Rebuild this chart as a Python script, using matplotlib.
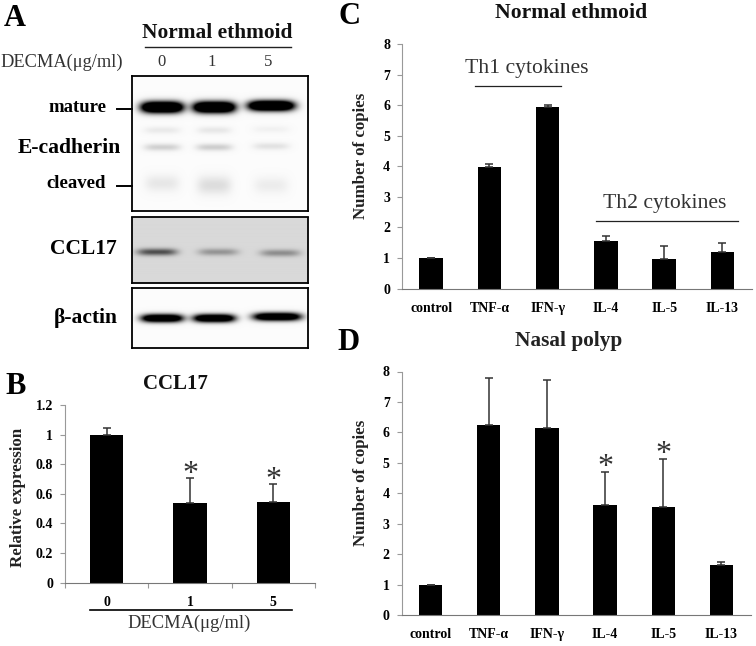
# -*- coding: utf-8 -*-
"""Figura: western blot y barras de CCL17 / citoquinas."""
import numpy as np
import matplotlib
matplotlib.use("Agg")
import matplotlib.pyplot as plt
from matplotlib.lines import Line2D

plt.rcParams["font.family"] = ["Liberation Serif", "DejaVu Serif"]

W, H = 756, 646

# panel B
doses = ["0", "1", "5"]
ccl17 = [1.0, 0.535, 0.545]
ccl17_top = [1.045, 0.705, 0.665]

# panels C, D
cytokines = ["control", "TNF-α", "IFN-γ", "IL-4", "IL-5", "IL-13"]
normal = [1.0, 3.98, 5.93, 1.56, 0.95, 1.2]
normal_top = [1.0, 4.07, 6.0, 1.72, 1.39, 1.5]
polyp = [0.98, 6.25, 6.13, 3.6, 3.56, 1.63]
polyp_top = [0.98, 7.8, 7.73, 4.7, 5.12, 1.75]

# blot bands: lane centre x, half width, y, half height, darkness (in pixels of the figure)
ecad_bands = [(162, 21, 107, 5.5, 2.0), (214, 21, 107, 5.5, 2.0), (271, 23, 105.5, 5.0, 2.0),
              (162, 18, 130, 3.5, 0.07), (214, 17, 130, 3.5, 0.08), (271, 18, 129, 3.5, 0.04),
              (162, 18, 147, 3.5, 0.17), (214, 18, 147, 3.5, 0.18), (271, 18, 146, 3.5, 0.10),
              (162, 17, 183, 8, 0.08), (214, 17, 185, 9, 0.12), (271, 17, 185, 8, 0.06)]
ccl_bands = [(157, 20, 252, 3.5, 0.55), (218, 20, 252, 3.5, 0.27), (280, 20, 253, 3.5, 0.30)]
actin_bands = [(162, 21, 318, 4, 1.6), (214, 21, 318, 4, 1.6), (277, 24, 316.5, 4, 1.6)]


def px_axes(left, top, right, bottom):
    return fig.add_axes([left / W, 1 - bottom / H, (right - left) / W, (bottom - top) / H])


def label(x, y, s, size, bold=True, color="black", **kw):
    kw.setdefault("ha", "center")
    fig.text(x / W, 1 - (y + 2) / H, s, fontsize=size, fontweight="bold" if bold else "normal",
             color=color, va="center", **kw)


def hline(x0, x1, y, lw=1.0, color="#222222"):
    fig.add_artist(Line2D([x0 / W, x1 / W], [1 - y / H, 1 - y / H], color=color, lw=lw))


def blot(left, top, right, bottom, bands, bg):
    ax = px_axes(left, top, right, bottom)
    xx, yy = np.meshgrid(np.arange(left, right, 0.5), np.arange(top, bottom, 0.5))
    dark = np.zeros_like(xx)
    for cx, hw, cy, hh, d in bands:
        dark += d * np.exp(-((xx - cx) / hw) ** 4 - ((yy - cy) / hh) ** 2)
    ax.imshow(np.clip(bg - dark, 0, 1), cmap="gray", vmin=0, vmax=1, aspect="auto",
              extent=(left, right, bottom, top))
    ax.set_xticks([]); ax.set_yticks([])
    for s in ax.spines.values():
        s.set_linewidth(1.3)


def bars(box, vals, tops, names, ymax, ystep, w, ticks_x=False, fmt="%g", size=10):
    ax = px_axes(*box)
    x = np.arange(len(vals))
    err = np.array(tops) - np.array(vals)
    ax.bar(x, vals, width=w, color="black")
    ax.errorbar(x, vals, yerr=[np.zeros(len(vals)), err], fmt="none", ecolor="#333333",
                elinewidth=1.1, capsize=2.8, capthick=1.1)
    ax.set_xlim(-0.5, len(vals) - 0.5)
    ax.set_ylim(0, ymax)
    ax.set_yticks(np.arange(0, ymax + 1e-6, ystep))
    ax.set_yticklabels([fmt % round(v, 1) for v in np.arange(0, ymax + 1e-6, ystep)],
                       fontsize=size, fontweight="bold")
    if ticks_x:
        ax.set_xticks(np.arange(-0.5, len(vals)), minor=True)
        ax.tick_params(axis="x", which="minor", length=3.5, color="#999999", width=0.8)
    ax.set_xticks(x)
    ax.set_xticklabels(names, fontsize=size, fontweight="bold")
    ax.tick_params(axis="x", which="major", length=0, pad=9.5)
    ax.tick_params(axis="y", length=3.5, color="#999999", width=0.8, pad=5)
    ax.spines["top"].set_visible(False)
    ax.spines["right"].set_visible(False)
    ax.spines["left"].set_color("#999999")
    ax.spines["bottom"].set_color("#777777")
    ax.patch.set_alpha(0)
    return ax


def stars(ax, idx, tops, drop):
    for i in idx:
        ax.annotate("*", (i, tops[i]), xytext=(0, drop), textcoords="offset points",
                    fontsize=23, ha="center", va="bottom", color="#333333")


fig = plt.figure(figsize=(W / 100, H / 100), dpi=100)

# A
label(15, 16, "A", 22)
label(217, 31, "Normal ethmoid", 15.4, color="#111111")
hline(145, 291, 47)
label(62, 60, "DECMA(μg/ml)", 13.2, bold=False, color="#333333")
for cx, s in zip([161, 212, 268], doses):
    label(cx, 60, s, 12, bold=False, color="#333333")
blot(132, 76, 308, 211, ecad_bands, 0.985)
blot(132, 217.5, 308, 283, ccl_bands, 0.85)
blot(132, 288, 308, 348, actin_bands, 0.985)
label(77, 106, "mature", 13.5)
label(69, 146, "E-cadherin", 15.6)
label(76, 182, "cleaved", 13.5)
hline(117, 132, 109, lw=1.4, color="black")
hline(117, 132, 186, lw=1.4, color="black")
label(83, 247, "CCL17", 15.5)
label(86, 316, "β-actin", 15.5)

# B
label(16, 384, "B", 22)
label(175, 382, "CCL17", 15, color="#111111")
ax_b = bars((65, 405, 315, 582.5), ccl17, ccl17_top, doses, 1.2, 0.2, 0.4, ticks_x=True, size=10)
label(18, 495, "Relative expression", 12.2, color="#222222", rotation=90)
stars(ax_b, (1, 2), ccl17_top, -8)
hline(90, 292, 610, lw=1.2, color="black")
label(189, 621, "DECMA(μg/ml)", 13.3, bold=False, color="#333333")

# C
label(350, 14, "C", 22)
label(571, 11, "Normal ethmoid", 15.6, color="#111111")
ax_c = bars((402, 44, 751.5, 288.5), normal, normal_top, cytokines, 8, 1, 0.4)
label(361, 154, "Number of copies", 12.2, color="#222222", rotation=90)
label(527, 66, "Th1 cytokines", 15.6, bold=False, color="#333333")
hline(475, 561, 85.5, lw=0.9)
label(665, 201, "Th2 cytokines", 15.6, bold=False, color="#333333")
hline(596, 738, 221, lw=0.9)

# D
label(348, 341, "D", 22)
label(569, 339, "Nasal polyp", 15.3, color="#222222")
ax_d = bars((401.5, 371.5, 750.5, 615), polyp, polyp_top, cytokines, 8, 1, 0.4)
label(361, 481, "Number of copies", 12.2, color="#222222", rotation=90)
stars(ax_d, (3, 4), polyp_top, -7)

plt.savefig("out.png", dpi=100)
